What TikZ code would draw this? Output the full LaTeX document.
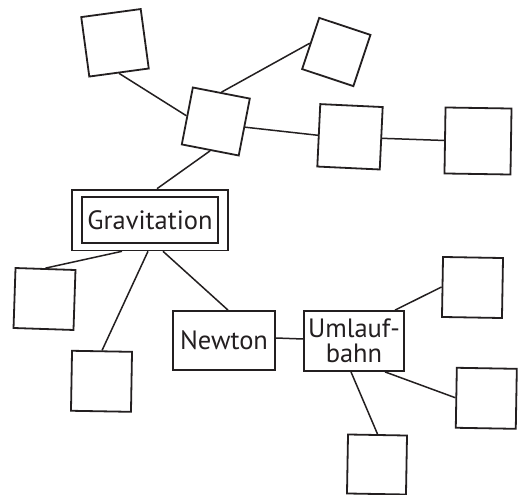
\documentclass[tikz,border=0pt]{standalone}
\usepackage{fontspec}
\setmainfont{PT Sans}
\usetikzlibrary{fit}
\definecolor{ink}{RGB}{35,31,32}
\begin{document}
\begin{tikzpicture}[x=1pt,y=-1pt,
  box/.style={draw=ink,line width=1.8pt,rectangle,inner sep=0pt,
    minimum width=#1,minimum height=#1},
  label/.style={draw=ink,line width=1.8pt,rectangle,inner sep=0pt,
    font=\fontsize{26.5}{25}\selectfont,text=ink,align=center},
  link/.style={draw=ink,line width=1.5pt}]
\useasboundingbox[fill=white] (0,0) rectangle (520,495);

% empty concept boxes
\node[box=60,rotate=7.7]  (a) at (115,42.8) {};
\node[box=58,rotate=-11]  (b) at (215.8,121.5) {};
\node[box=54,rotate=-18.4] (c) at (336.3,52) {};
\node[box=62.5,rotate=-2.7] (d) at (350,136.8) {};
\node[box=66,rotate=-0.9] (e) at (478,141) {};
\node[box=60,rotate=-1.9] (f) at (44.5,299) {};
\node[box=60,rotate=-1]   (g) at (101.5,381.3) {};
\node[box=60,rotate=-1]   (h) at (472.5,287.5) {};
\node[box=60,rotate=-1]   (i) at (486.3,398.3) {};
\node[box=59,rotate=-1]   (j) at (377,464.5) {};

% labelled boxes
\node[label,minimum width=136,minimum height=46] (grav) at (150,220) {Gravitation};
\node[draw=ink,line width=1.8pt,inner sep=0pt,fit=(grav),
  inner xsep=9pt,inner ysep=6.5pt] (gravo) {};
\node[label,minimum width=102,minimum height=59] (newton) at (224,340.5) {Newton};
\node[label,minimum width=100,minimum height=60] (umlauf) at (354,341) {Umlauf-\\bahn};

% connectors
\draw[link] (a.south) -- (b.west);
\draw[link] (b.north) -- (c.west);
\draw[link] (b.east) -- (d.west);
\draw[link] (d.east) -- (e.west);
\draw[link] (b.south) -- ([xshift=7pt]gravo.north);
\draw[link] ([xshift=-28pt]gravo.south) -- (f.north);
\draw[link] ([xshift=-2pt]gravo.south) -- (g.north);
\draw[link] ([xshift=13pt]gravo.south) -- ([xshift=4pt]newton.north);
\draw[link] ([yshift=2.5pt]newton.east) -- ([yshift=2pt]umlauf.west);
\draw[link] ([xshift=41pt]umlauf.north) -- (h.west);
\draw[link] ([xshift=31pt]umlauf.south) -- (i.west);
\draw[link] ([xshift=-3pt]umlauf.south) -- (j.north);
\end{tikzpicture}
\end{document}
